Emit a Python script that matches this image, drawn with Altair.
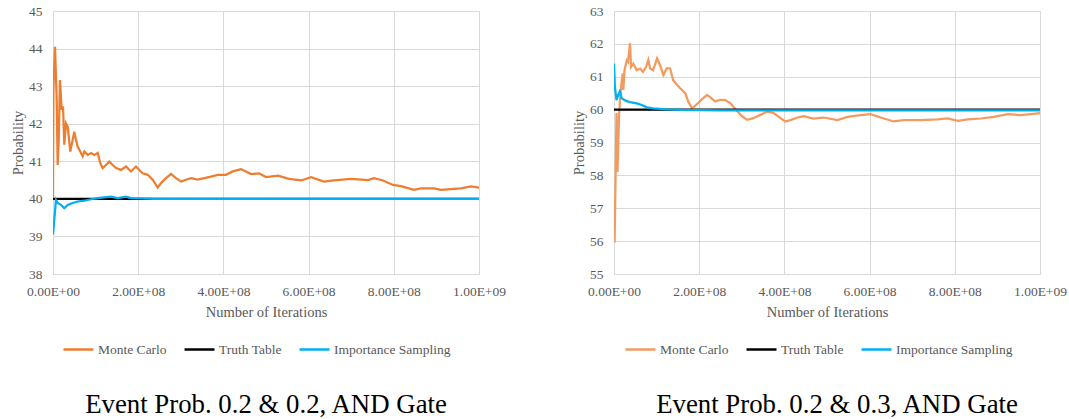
import altair as alt
import pandas as pd

SERIES = ["Monte Carlo", "Truth Table", "Importance Sampling"]
FONT = "Liberation Serif"
TEXT_GREY = "#595959"
GRID_GREY = "#D9D9D9"

x_tick_values = [0, 2e8, 4e8, 6e8, 8e8, 1e9]
x_tick_labels = ["0.00E+00", "2.00E+08", "4.00E+08", "6.00E+08", "8.00E+08", "1.00E+09"]

# ---- Event Prob. 0.2 & 0.2 (iterations in millions, probability in %)
left_title = "Event Prob. 0.2 & 0.2, AND Gate"
left_y_ticks = [38, 39, 40, 41, 42, 43, 44, 45]
left_truth = 40.0
left_colors = ["#ED7D31", "#000000", "#00B0F0"]
left_mc_iter = [0, 1, 4.7, 8.7, 11, 13.4, 16.4, 20.4, 23.5, 26.5, 30.5, 34.5, 40.6, 46.2,
                49.9, 53.9, 57.9, 64, 69.7, 73.5, 81.5, 89.2, 97, 104.9, 111, 116.7, 124.4,
                132.2, 140.1, 147.9, 159.6, 171.4, 183.1, 194.8, 202.6, 210.6, 222.3, 234,
                245.8, 253.5, 265.3, 277, 288.7, 300.5, 312.2, 323.9, 339.7, 355.2, 370.9,
                386.6, 406.1, 421.8, 441.3, 446, 464.8, 483.6, 500, 528.2, 554, 582.2, 605.6,
                636.2, 659.6, 699.5, 739.4, 753.5, 774.6, 798.1, 816.9, 847.4, 863.8, 894.4,
                910.8, 934.3, 957.7, 981.2, 1000]
left_mc_prob = [40.0, 42.99, 44.05, 42.63, 40.9, 41.57, 43.16, 42.37, 42.46, 41.44, 42.01,
                41.92, 41.26, 41.57, 41.79, 41.57, 41.39, 41.26, 41.13, 41.26, 41.17, 41.22,
                41.17, 41.22, 40.95, 40.82, 40.9, 40.99, 40.9, 40.82, 40.77, 40.86, 40.73,
                40.86, 40.77, 40.68, 40.64, 40.51, 40.3, 40.42, 40.55, 40.66, 40.55, 40.46,
                40.51, 40.55, 40.51, 40.55, 40.59, 40.64, 40.64, 40.73, 40.79, 40.77, 40.66,
                40.68, 40.58, 40.62, 40.53, 40.49, 40.58, 40.46, 40.49, 40.53, 40.5, 40.55,
                40.49, 40.37, 40.34, 40.24, 40.28, 40.28, 40.24, 40.26, 40.28, 40.33, 40.3]
left_is_iter = [0, 7, 11, 18.8, 26.5, 34.5, 46.2, 58, 73.5, 89, 105, 120, 136, 152, 171, 183,
                207, 237, 400, 600, 800, 1000]
left_is_prob = [39.05, 39.97, 39.89, 39.84, 39.75, 39.84, 39.89, 39.93, 39.95, 39.99, 40.02,
                40.04, 40.06, 40.02, 40.06, 40.02, 40.01, 40.0, 40.0, 40.0, 40.0, 40.0]

# ---- Event Prob. 0.2 & 0.3
right_title = "Event Prob. 0.2 & 0.3, AND Gate"
right_y_ticks = [55, 56, 57, 58, 59, 60, 61, 62, 63]
right_truth = 60.0
right_colors = ["#F39A5F", "#000000", "#00B0F0"]
right_mc_iter = [0, 1.4, 5.9, 8.2, 11.8, 14.1, 17.6, 20.5, 21.9, 24.7, 29.9, 32.9, 37.6, 40,
                 45.4, 53.4, 61.2, 68.2, 75.3, 80.7, 84.7, 91.8, 101.2, 108.2, 116, 124,
                 131.8, 138.8, 148.2, 155.3, 167.1, 174.1, 182.8, 188.2, 197.6, 209.4, 218.8,
                 228.2, 237.6, 249.4, 261.2, 272.9, 280, 289.4, 301.2, 312.9, 327.1, 343.5,
                 360, 374.1, 390.6, 402.4, 414.1, 430.6, 444.7, 468.2, 491.8, 524.7, 548.2,
                 578.8, 602.4, 625.9, 656.5, 680, 720, 760, 783.5, 807.1, 830.6, 861.2, 891.8,
                 924.7, 955.3, 978.8, 1000]
right_mc_prob = [57.3, 55.96, 59.9, 58.1, 59.8, 60.3, 60.8, 61.1, 60.6, 61.2, 61.5, 61.45,
                 62.02, 61.3, 61.4, 61.2, 61.25, 61.15, 61.3, 61.51, 61.25, 61.2, 61.56, 61.35,
                 61.05, 61.26, 61.25, 60.9, 60.75, 60.65, 60.5, 60.25, 60.05, 60.09, 60.2,
                 60.35, 60.45, 60.35, 60.25, 60.3, 60.29, 60.2, 60.09, 59.95, 59.79, 59.69,
                 59.74, 59.84, 59.94, 59.9, 59.74, 59.64, 59.68, 59.76, 59.8, 59.73, 59.76,
                 59.68, 59.78, 59.83, 59.86, 59.76, 59.64, 59.68, 59.68, 59.7, 59.73, 59.66,
                 59.7, 59.73, 59.78, 59.86, 59.83, 59.86, 59.89]
right_is_iter = [0, 2.0, 5.9, 9.8, 13.7, 17.6, 23.5, 29.9, 37.6, 53.4, 65.2, 77.0, 92.5, 124,
                 160, 250, 400, 600, 800, 1000]
right_is_prob = [61.4, 60.7, 60.29, 60.45, 60.55, 60.35, 60.3, 60.26, 60.23, 60.19, 60.14,
                 60.07, 60.04, 60.01, 59.99, 59.98, 59.98, 59.98, 59.98, 59.98]


def frame(name, iters_m, probs):
    return pd.DataFrame({"iter": [v * 1e6 for v in iters_m], "prob": probs, "series": name})


x_label_expr = " : ".join(
    f"datum.value == {v:.0f} ? '{t}'" for v, t in zip(x_tick_values, x_tick_labels)
) + " : ''"


def panel(title, mc_x, mc_y, is_x, is_y, truth, y_ticks, colors, legend_x, title_dx):
    x = alt.X(
        "iter:Q",
        scale=alt.Scale(domain=[x_tick_values[0], x_tick_values[-1]], nice=False),
        axis=alt.Axis(values=x_tick_values, labelExpr=x_label_expr, labelFlush=False,
                      title="Number of Iterations"),
    )
    y = alt.Y(
        "prob:Q",
        scale=alt.Scale(domain=[y_ticks[0], y_ticks[-1]], nice=False, zero=False),
        axis=alt.Axis(values=y_ticks, labelFlush=False, title="Probability"),
    )
    color = alt.Color(
        "series:N",
        scale=alt.Scale(domain=SERIES, range=colors),
        legend=alt.Legend(
            title=None, orient="none", legendX=legend_x, legendY=322,
            direction="horizontal", symbolType="stroke", symbolSize=900,
            symbolStrokeWidth=2.5, labelFont=FONT, labelFontSize=13.5,
            labelColor=TEXT_GREY, columnPadding=12, labelOffset=3,
        ),
    )
    layers = []
    for name, xs, ys in [
        ("Monte Carlo", mc_x, mc_y),
        ("Truth Table", [x_tick_values[0] / 1e6, x_tick_values[-1] / 1e6], [truth, truth]),
        ("Importance Sampling", is_x, is_y),
    ]:
        layers.append(
            alt.Chart(frame(name, xs, ys))
            .mark_line(strokeWidth=2.25, clip=True)
            .encode(x=x, y=y, color=color)
        )
    return alt.layer(*layers).properties(
        width=426,
        height=263,
        title=alt.TitleParams(
            title, orient="bottom", anchor="middle", frame="group", font=FONT,
            fontSize=26.8, fontWeight="normal", color="#000000", offset=36, dx=title_dx,
        ),
    )


left = panel(left_title, left_mc_iter, left_mc_prob, left_is_iter, left_is_prob,
             left_truth, left_y_ticks, left_colors, 9, 0)
right = panel(right_title, right_mc_iter, right_mc_prob, right_is_iter, right_is_prob,
              right_truth, right_y_ticks, right_colors, 10, 10)

chart = (
    alt.hconcat(left, right, spacing=65)
    .resolve_scale(color="independent")
    .resolve_legend(color="independent")
    .properties(padding={"left": 10, "top": 4, "right": 0, "bottom": 0}, background="white")
    .configure_view(stroke=None)
    .configure_axis(
        labelFont=FONT, labelFontSize=13.5, labelColor=TEXT_GREY,
        titleFont=FONT, titleFontSize=14.5, titleColor=TEXT_GREY, titleFontWeight="normal",
        grid=True, gridColor=GRID_GREY, gridWidth=1, domainColor=GRID_GREY,
        ticks=False, tickSize=0, labelPadding=10,
    )
    .configure_axisY(titlePadding=3, labelPadding=11)
    .configure_axisX(titlePadding=8)
)

chart.save("out.html", embed_options={"renderer": "svg", "actions": False})
